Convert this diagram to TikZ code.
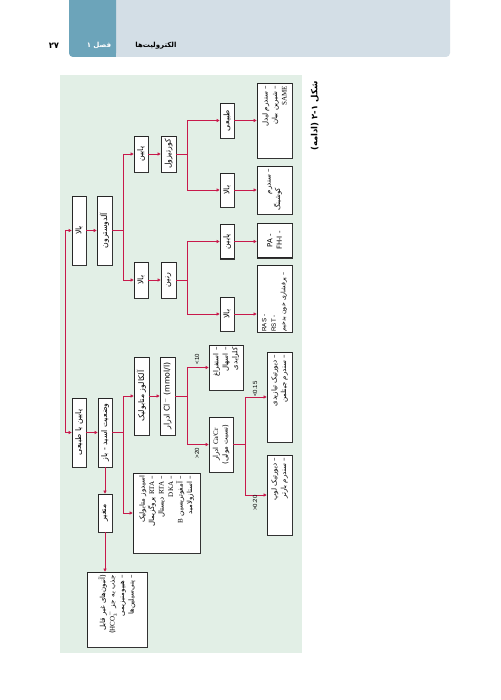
\documentclass[tikz,border=0pt]{standalone}
\usepackage{fontspec}
\setmainfont{Liberation Serif}
\newfontfamily\fa[Script=Arabic]{DejaVu Sans}
\newfontfamily\lsans{Liberation Sans}
\TeXXeTstate=1
\usetikzlibrary{arrows.meta}
\newcommand{\pers}[1]{{\fa\beginR#1\endR}}
\definecolor{panel}{HTML}{E2EFE6}
\definecolor{arrred}{HTML}{C8194B}
\definecolor{band}{HTML}{D3DEE6}
\definecolor{tabc}{HTML}{6CA4BA}
\begin{document}
\begin{tikzpicture}[x=1pt,y=-1pt,
 box/.style={draw=black!85, line width=0.45pt, fill=white, rotate=90, inner sep=0.8pt, align=center, font=\fontsize{7}{9.5}\selectfont},
 sbox/.style={box, inner sep=0.3pt, font=\fontsize{7.8}{9}\selectfont},
 ln/.style={draw=arrred, line width=0.9pt},
 arr/.style={ln, -{Triangle[length=3.2pt,width=3pt]}},
 lab/.style={rotate=90, font=\lsans\fontsize{6}{7}\selectfont, inner sep=0.5pt}]
\useasboundingbox (0,0) rectangle (500,700);
\fill[white] (0,0) rectangle (500,700);
% header
\fill[band, rounded corners=4pt] (69,-8) rectangle (450,57);
\fill[tabc, rounded corners=4pt] (69,-8) rectangle (116,57);
\fill[tabc] (105,-8) rectangle (116,57);
\node[font=\bfseries\fontsize{7}{8}\selectfont] (h1) at (156,45.5) {\pers{الکترولیت‌ها}};
\node[font=\bfseries\fontsize{7}{8}\selectfont, text=white] (h2) at (99,45.5) {\pers{فصل ۱}};
\node[font=\bfseries\fontsize{8.5}{9}\selectfont] (h3) at (54,45.5) {\pers{\beginL۲۷\endL}};
% panel
\fill[panel] (60,75) rectangle (302,653);
% caption
\node[rotate=90, anchor=east, font=\bfseries\fontsize{8.5}{10}\selectfont] (cap) at (315,78) {\pers{شکل \beginL۲-۱\endL{} (ادامه)}};
% boxes
\node[sbox, minimum width=69pt, minimum height=14pt] (A1) at (79,230.5) {\pers{بالا}};
\node[sbox, minimum width=69pt, minimum height=15pt] (A2) at (104.5,230.5) {\pers{آلدوسترون}};
\node[sbox, minimum width=36pt, minimum height=14pt] (B1) at (141,154) {\pers{پایین}};
\node[sbox, minimum width=36pt, minimum height=15pt] (B2) at (168.5,154) {\pers{کورتیزول}};
\node[sbox, minimum width=36pt, minimum height=14pt] (C1) at (141,280) {\pers{بالا}};
\node[sbox, minimum width=36pt, minimum height=15pt] (C2) at (168.5,280) {\pers{رنین}};
\node[sbox, minimum width=35pt, minimum height=14pt] (D1) at (227,120.5) {\pers{طبیعی}};
\node[sbox, minimum width=34pt, minimum height=14pt] (D2) at (227,190) {\pers{بالا}};
\node[sbox, minimum width=34pt, minimum height=14pt] (D3) at (227,241.5) {\pers{پایین}};
\node[sbox, minimum width=34pt, minimum height=14pt] (D4) at (227,314) {\pers{بالا}};
\node[box, minimum width=75pt, minimum height=35pt, text width=69pt, align=right] (E1) at (274.5,120.5)
 {\pers{– سندرم لیدل}\\\pers{– شیرین بیان}\\\pers{{\rmfamily SAME}}};
\node[box, minimum width=48pt, minimum height=35pt, text width=42pt, align=left] (E2) at (274.5,190)
 {\hfill\pers{– سندرم}\\\pers{کوشینگ}};
\node[box, minimum width=34pt, minimum height=35pt, font=\lsans\fontsize{7}{9.5}\selectfont] (E3) at (274.5,240.5)
 {\pers{- PA}\\\pers{- FH-I}};
\node[box, minimum width=67pt, minimum height=35pt, text width=66pt, inner sep=0.4pt, align=left, font=\fontsize{6.2}{9.5}\selectfont] (E4) at (274.5,298.5)
 {\pers{{\lsans - RAS}}\\\pers{{\lsans - RST}}\\\mbox{\pers{– پرفشاری خون بدخیم}}};
\node[sbox, minimum width=69pt, minimum height=14pt] (F1) at (79,432.5) {\pers{پایین یا طبیعی}};
\node[sbox, minimum width=69pt, minimum height=14pt] (F2) at (105,432.5) {\pers{وضعیت اسید - باز}};
\node[sbox, minimum width=78pt, minimum height=15pt] (G1) at (141.5,396) {\pers{آلکالوز متابولیک}};
\node[sbox, minimum width=78pt, minimum height=15pt] (G2) at (167.5,396) {\pers{\beginL Cl$^-$ (mmol/l)\endL{} ادرار}};
\node[box, minimum width=45pt, minimum height=34pt, text width=40pt, align=right] (H1) at (226,367.5)
 {\pers{– استفراغ}\\\pers{– اسهال}\\\pers{کلرایدی}};
\node[box, minimum width=55pt, minimum height=24pt] (H2) at (221,444.5)
 {\pers{{\rmfamily Ca/Cr} ادرار}\\\pers{(نسبت مولی)}};
\node[box, minimum width=90pt, minimum height=25pt, text width=84pt, align=right] (I1) at (279.5,397)
 {\pers{– دیورتیک تیازیدی}\\\pers{– سندرم جیتلمن}};
\node[box, minimum width=80pt, minimum height=25pt, text width=74pt, align=right] (I2) at (279.5,495)
 {\pers{– دیورتیک لوپ}\\\pers{– سندرم بارتر}};
\node[box, minimum width=80pt, minimum height=67pt, text width=74pt, align=right] (M) at (166.5,513)
 {\pers{اسیدوز متابولیک}\\\pers{– {\rmfamily RTA} پروگزیمال}\\\pers{– {\rmfamily RTA} دیستال}\\\pers{– {\rmfamily DKA}}\\\pers{– آمفوتریسین {\rmfamily B}}\\\pers{– استازولامید}};
\node[sbox, minimum width=38pt, minimum height=14pt] (V) at (105,513) {\pers{متغیر}};
\node[box, minimum width=75pt, minimum height=60pt, text width=69pt, align=right] (W) at (117,609.5)
 {\pers{(آنیون‌های غیر قابل}\\\pers{جذب به جز \beginL$\mathrm{HCO_3^-}$\endL)}\\\pers{– هیپومنیزیمی}\\\pers{– پنی‌سیلین‌ها}};
% shadows (right and bottom edges)
\foreach \n in {A1,A2,B1,B2,C1,C2,D1,D2,D3,D4,E1,E2,E3,E4,F1,F2,G1,G2,H1,H2,I1,I2,M,V,W}
 {\draw[black!80, line width=1pt] ([shift={(0.6,0.4)}]\n.south east) -- ([shift={(0.6,0.6)}]\n.south west) -- ([shift={(0.4,0.6)}]\n.north west);}
% connectors
\coordinate (tr) at (65,330);
\draw[arr] (tr) |- (A1.north);
\draw[arr] (tr) |- (F1.north);
\draw[arr] (A1.south) -- (A2.north);
\coordinate (jA) at (123,230.5);
\draw[ln] (A2.south) -- (jA);
\draw[arr] (jA) |- (B1.north);
\draw[arr] (jA) |- (C1.north);
\draw[arr] (B1.south) -- (B2.north);
\draw[arr] (C1.south) -- (C2.north);
\coordinate (jB) at (187,154);
\draw[ln] (B2.south) -- (jB);
\draw[arr] (jB) |- (D1.north);
\draw[arr] (jB) |- (D2.north);
\coordinate (jC) at (187,280);
\draw[ln] (C2.south) -- (jC);
\draw[arr] (jC) |- (D3.north);
\draw[arr] (jC) |- (D4.north);
\draw[arr] (D1.south) -- (E1.north);
\draw[arr] (D2.south) -- (E2.north);
\draw[arr] (D3.south) -- (D3.south -| E3.north);
\draw[arr] (D4.south) -- (D4.south -| E4.north);
\draw[arr] (F1.south) -- (F2.north);
\coordinate (jF) at (123,432.5);
\draw[ln] (F2.south) -- (jF);
\draw[arr] (jF) |- (G1.north);
\draw[arr] (jF) |- (M.north);
\draw[arr] (G1.south) -- (G2.north);
\coordinate (jG) at (187,396);
\draw[ln] (G2.south) -- (jG);
\draw[arr] (jG) |- (H1.north);
\draw[arr] (jG) |- (H2.north);
\coordinate (jH) at (245,444.5);
\draw[ln] (H2.south) -- (jH);
\draw[arr] (jH) |- (I1.north);
\draw[arr] (jH) |- (I2.north);
\draw[arr] (F2.west) -- (V.east);
\draw[arr] (V.west) -- (V.west |- W.east);
% labels
\node[lab] (l1) at (197,359) {<10};
\node[lab] (l2) at (197,453) {>20};
\node[lab] (l3) at (255,389) {<0.15};
\node[lab] (l4) at (255,503) {>0.20};
\end{tikzpicture}
\end{document}
